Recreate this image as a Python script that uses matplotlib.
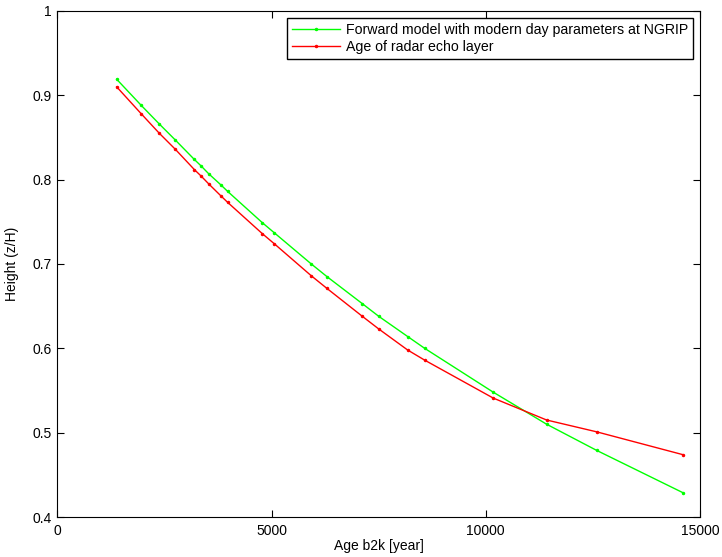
import matplotlib
matplotlib.use('Agg')
import matplotlib.pyplot as plt

plt.rcParams['font.family'] = ['Liberation Sans', 'DejaVu Sans']

# ages (b2k) of the layers
age = [1386, 1960, 2380, 2754, 3197, 3361, 3533, 3813, 3977, 4784, 5064,
       5928, 6294, 7118, 7501, 8177, 8574, 10175, 11421, 12588, 14595]

# forward model heights
h_model = [0.919, 0.888, 0.866, 0.847, 0.824, 0.816, 0.807, 0.794, 0.786, 0.749, 0.737,
           0.700, 0.685, 0.653, 0.638, 0.614, 0.600, 0.548, 0.510, 0.479, 0.429]

# radar echo layer heights
h_radar = [0.910, 0.878, 0.855, 0.836, 0.812, 0.804, 0.795, 0.781, 0.773, 0.736, 0.724,
           0.686, 0.671, 0.638, 0.623, 0.598, 0.586, 0.541, 0.515, 0.501, 0.474]

fig = plt.figure(figsize=(7.22, 5.57), dpi=100)
ax = fig.add_axes([0.0794, 0.0718, 0.8901, 0.9085])

ax.plot(age, h_model, '.-', color='#00ff00', lw=1, ms=3,
        label='Forward model with modern day parameters at NGRIP')
ax.plot(age, h_radar, '.-', color='#ff0000', lw=1, ms=3,
        label='Age of radar echo layer')

ax.set_xlim(0, 15000)
ax.set_ylim(0.4, 1.0)
ax.set_xticks([0, 5000, 10000, 15000])
ax.set_yticks([0.4, 0.5, 0.6, 0.7, 0.8, 0.9, 1.0])
ax.set_yticklabels(['0.4', '0.5', '0.6', '0.7', '0.8', '0.9', '1'])
ax.tick_params(direction='in', top=True, right=True, length=5, labelsize=10)
ax.tick_params(axis='x', pad=5)
ax.tick_params(axis='y', pad=4)
ax.set_xlabel('Age b2k [year]', fontsize=10, labelpad=1)
ax.set_ylabel('Height (z/H)', fontsize=10, labelpad=10)

leg = ax.legend(loc='upper right', fontsize=10.2, fancybox=False, framealpha=1,
                edgecolor='black', borderaxespad=0.5, handlelength=3.4,
                handletextpad=0.4, labelspacing=0.2, borderpad=0.35)
leg.get_frame().set_linewidth(1)

fig.savefig('out.png', dpi=100)
